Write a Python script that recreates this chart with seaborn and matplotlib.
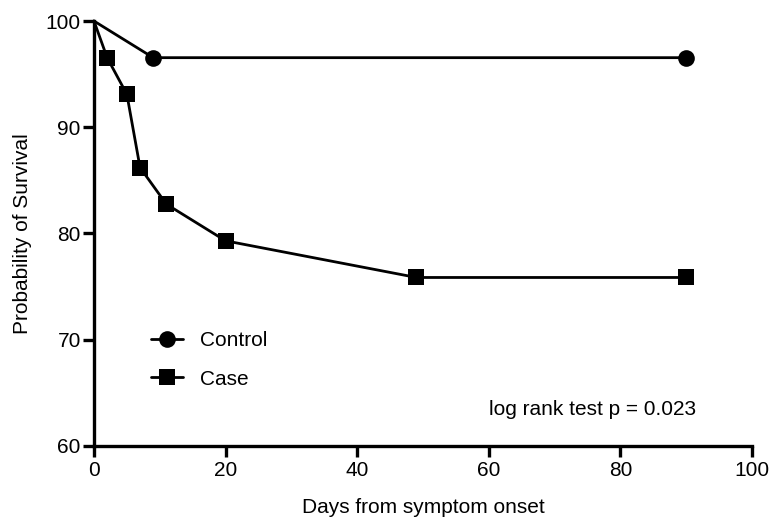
import matplotlib
matplotlib.use("Agg")
import matplotlib.pyplot as plt
import seaborn as sns
import pandas as pd
from matplotlib.lines import Line2D

control_days = [0, 9, 90]
control_surv = [100, 96.55, 96.55]
case_days = [0, 2, 5, 7, 11, 20, 49, 90]
case_surv = [100, 96.55, 93.10, 86.21, 82.76, 79.31, 75.86, 75.86]
x_ticks = [0, 20, 40, 60, 80, 100]
y_ticks = [60, 70, 80, 90, 100]

sns.set_theme(style="ticks")
plt.rcParams['font.family'] = ['Liberation Sans', 'DejaVu Sans']
plt.rcParams['text.color'] = 'black'
plt.rcParams['axes.labelcolor'] = 'black'

FS = 15
fig = plt.figure(figsize=(7.69, 5.19), dpi=100)
ax = fig.add_axes([0.1222, 0.1407, 0.8558, 0.8188])

df_c = pd.DataFrame({"day": control_days, "surv": control_surv})
df_k = pd.DataFrame({"day": case_days, "surv": case_surv})

sns.lineplot(data=df_c, x="day", y="surv", ax=ax, color="black", lw=2.0,
             marker="o", markersize=12, markevery=list(range(1, len(control_days))),
             markeredgewidth=0, clip_on=False)
sns.lineplot(data=df_k, x="day", y="surv", ax=ax, color="black", lw=2.0,
             marker="s", markersize=11.5, markevery=list(range(1, len(case_days))),
             markeredgewidth=0, clip_on=False)

ax.set_xlim(0, 100)
ax.set_ylim(60, 100)
ax.set_xticks(x_ticks)
ax.set_yticks(y_ticks)
ax.tick_params(axis="both", width=2.4, length=8, labelsize=FS, color="black",
               labelcolor="black", pad=1.5)
ax.tick_params(axis="x", pad=3)
for s in ["left", "bottom"]:
    ax.spines[s].set_linewidth(2.4)
    ax.spines[s].set_color("black")
sns.despine(ax=ax)
ax.set_xlabel("Days from symptom onset", fontsize=FS, labelpad=13, color="black")
ax.set_ylabel("Probability of Survival", fontsize=FS, labelpad=10, color="black")

handles = [Line2D([], [], color="black", lw=2.0, marker="o", markersize=12, markeredgewidth=0),
           Line2D([], [], color="black", lw=2.0, marker="s", markersize=11.5, markeredgewidth=0)]
leg = ax.legend(handles, ["Control", "Case"], loc="upper left", bbox_to_anchor=(0.058, 0.315),
                frameon=False, fontsize=FS, handlelength=1.55, labelspacing=0.95,
                handletextpad=0.8, labelcolor="black")

ax.text(0.915, 0.085, "log rank test p = 0.023", transform=ax.transAxes, fontsize=FS,
        ha="right", va="center", color="black")

fig.savefig("out.png", dpi=100)
